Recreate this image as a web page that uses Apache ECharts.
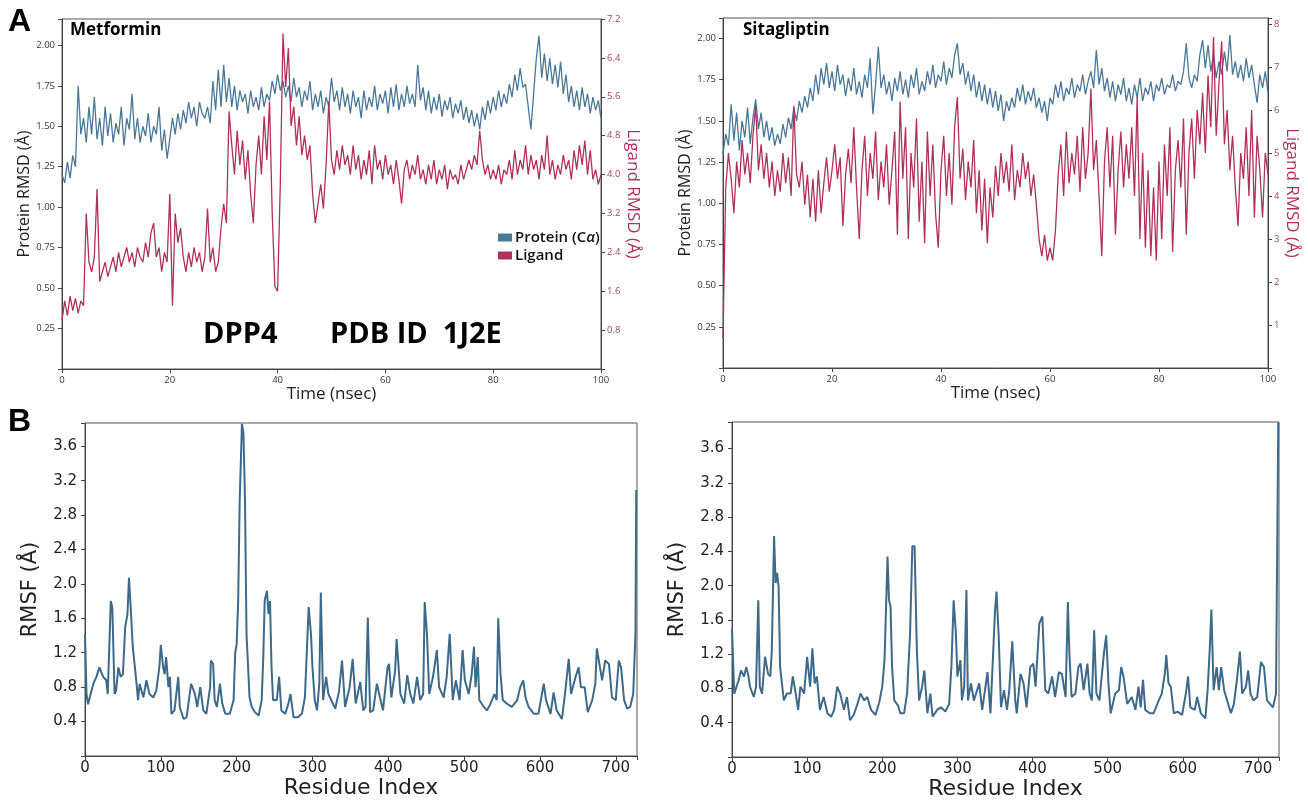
<!DOCTYPE html>
<html>
<head>
<meta charset="utf-8">
<title>RMSD and RMSF</title>
<script src="https://cdn.jsdelivr.net/npm/echarts@6/dist/echarts.min.js"></script>
<style>
  html, body { margin: 0; padding: 0; background: #fff; }
  #chart { width: 1308px; height: 803px; }
</style>
</head>
<body>
<div id="chart"></div>
<script>
// A: RMSD over 100 ns, one sample every 0.5 ns
const metProtein = [
  1.20,1.15,1.28,1.18,1.32,1.25,1.75,1.45,1.55,1.40,
  1.62,1.45,1.68,1.42,1.55,1.38,1.62,1.44,1.58,1.40,
  1.52,1.45,1.62,1.38,1.55,1.48,1.70,1.42,1.55,1.40,
  1.50,1.44,1.58,1.40,1.50,1.45,1.62,1.35,1.48,1.30,
  1.42,1.55,1.45,1.58,1.48,1.60,1.52,1.65,1.55,1.62,
  1.50,1.65,1.58,1.55,1.62,1.52,1.78,1.60,1.85,1.62,
  1.88,1.65,1.80,1.62,1.75,1.60,1.72,1.65,1.70,1.58,
  1.72,1.62,1.68,1.60,1.74,1.62,1.70,1.66,1.78,1.70,
  1.82,1.72,1.78,1.68,1.75,1.65,1.80,1.68,1.74,1.62,
  1.72,1.66,1.78,1.60,1.70,1.62,1.72,1.58,1.68,1.62,
  1.80,1.65,1.72,1.60,1.74,1.62,1.70,1.58,1.72,1.62,
  1.68,1.55,1.72,1.60,1.68,1.62,1.75,1.60,1.70,1.64,
  1.72,1.58,1.74,1.62,1.76,1.60,1.70,1.62,1.75,1.64,
  1.70,1.62,1.88,1.66,1.74,1.60,1.72,1.58,1.68,1.60,
  1.70,1.56,1.66,1.60,1.68,1.55,1.64,1.58,1.66,1.54,
  1.62,1.52,1.60,1.50,1.58,1.48,1.62,1.54,1.66,1.58,
  1.68,1.60,1.72,1.62,1.70,1.64,1.76,1.68,1.82,1.72,
  1.86,1.74,1.76,1.62,1.48,1.70,1.92,2.06,1.80,1.95,
  1.78,1.92,1.76,1.88,1.74,1.90,1.70,1.82,1.65,1.75,
  1.62,1.72,1.60,1.74,1.62,1.70,1.58,1.68,1.60,1.66,
  1.55
];
const metLigand = [
  1.0,1.4,1.1,1.5,1.2,1.45,1.15,1.4,1.3,3.2,
  2.2,2.0,2.3,3.7,1.8,2.0,2.2,1.9,2.1,2.3,
  2.0,2.4,2.1,2.3,2.5,2.2,2.4,2.1,2.5,2.3,
  2.2,2.6,2.3,2.8,3.0,2.3,2.5,2.0,2.4,2.2,
  3.6,1.3,3.2,2.6,2.9,2.3,2.0,2.4,2.1,2.5,
  2.2,2.4,2.0,2.3,3.3,2.2,2.5,2.0,2.2,2.9,
  3.4,3.0,5.3,4.6,4.0,4.9,4.2,4.7,3.9,4.5,
  3.6,3.0,4.2,4.8,4.0,5.2,4.3,5.5,3.2,1.7,
  1.6,3.8,6.9,5.8,6.6,5.0,5.4,4.6,5.2,4.4,
  4.8,4.3,4.6,3.6,3.0,3.4,3.8,3.3,4.2,5.5,
  4.3,4.0,4.5,4.1,4.6,4.2,4.4,4.0,4.6,4.1,
  4.4,3.9,4.3,4.0,4.5,3.8,4.6,4.1,4.3,3.9,
  4.4,4.0,4.2,3.8,4.3,3.9,3.4,4.1,4.3,3.9,
  4.2,4.0,4.4,3.9,4.1,3.8,4.2,3.9,4.3,3.8,
  4.1,3.9,4.2,3.7,4.1,3.9,4.0,3.8,4.2,3.9,
  4.1,4.3,4.1,4.4,4.2,4.9,4.3,4.0,4.2,3.9,
  4.1,3.9,4.2,3.8,4.1,4.0,4.3,3.9,4.5,4.0,
  4.3,4.1,4.6,4.0,4.4,4.1,4.3,3.9,4.4,4.1,
  4.8,4.0,4.3,3.9,4.2,4.0,4.4,4.1,4.3,3.9,
  4.5,4.1,4.6,4.2,4.7,4.0,4.5,3.9,4.1,3.8,
  4.0
];
const sitaProtein = [
  1.30,1.42,1.35,1.60,1.38,1.55,1.32,1.50,1.40,1.58,
  1.36,1.52,1.63,1.45,1.55,1.40,1.50,1.38,1.46,1.35,
  1.42,1.36,1.48,1.40,1.52,1.45,1.58,1.50,1.62,1.55,
  1.65,1.58,1.70,1.62,1.78,1.66,1.82,1.72,1.85,1.70,
  1.80,1.68,1.84,1.72,1.78,1.65,1.76,1.68,1.82,1.66,
  1.74,1.64,1.78,1.70,1.88,1.54,1.72,1.95,1.70,1.78,
  1.66,1.74,1.62,1.76,1.68,1.80,1.66,1.75,1.64,1.78,
  1.70,1.82,1.66,1.74,1.68,1.80,1.72,1.84,1.70,1.78,
  1.74,1.86,1.72,1.82,1.76,1.90,1.97,1.78,1.85,1.72,
  1.80,1.68,1.78,1.64,1.74,1.62,1.72,1.60,1.70,1.58,
  1.68,1.56,1.66,1.50,1.62,1.56,1.64,1.58,1.70,1.62,
  1.72,1.60,1.68,1.62,1.70,1.58,1.64,1.55,1.62,1.50,
  1.64,1.60,1.72,1.64,1.74,1.62,1.70,1.66,1.76,1.64,
  1.72,1.68,1.78,1.66,1.74,1.80,1.70,1.93,1.72,1.82,
  1.68,1.76,1.64,1.74,1.62,1.72,1.66,1.76,1.62,1.70,
  1.60,1.72,1.64,1.76,1.62,1.70,1.66,1.74,1.62,1.72,
  1.68,1.76,1.66,1.72,1.70,1.78,1.68,1.74,1.72,1.80,
  1.97,1.76,1.70,1.78,1.74,1.90,1.99,1.82,1.96,1.80,
  1.90,1.76,1.86,1.78,1.92,1.80,2.02,1.78,1.86,1.76,
  1.84,1.74,1.88,1.76,1.84,1.72,1.61,1.78,1.70,1.80,
  1.67
];
const sitaLigand = [
  0.7,4.2,5.0,4.4,3.6,4.8,4.2,5.3,4.5,5.0,
  4.3,5.4,6.1,4.6,5.2,4.4,5.0,4.2,4.8,4.0,
  4.6,4.1,5.0,4.3,4.9,4.0,6.1,4.5,4.2,4.8,
  3.8,4.5,3.5,4.4,3.4,4.6,3.6,4.3,4.9,4.1,
  4.6,5.2,4.4,4.9,3.3,4.5,5.1,4.3,5.6,4.2,
  3.0,4.6,5.4,4.0,5.0,4.4,5.5,3.9,4.8,4.2,
  5.2,3.8,4.6,5.5,3.1,6.2,4.4,5.6,3.0,5.0,
  4.2,5.8,3.4,4.8,2.9,5.5,4.0,5.2,3.6,2.8,
  4.6,5.4,4.0,5.0,3.8,5.6,6.3,4.4,5.1,3.9,
  4.8,4.2,5.3,3.6,4.6,3.2,4.4,2.9,4.2,3.5,
  4.7,4.0,5.0,4.3,4.8,4.1,5.2,3.9,4.6,4.2,
  5.0,4.4,4.8,4.0,4.5,3.8,3.0,2.6,3.1,2.5,
  2.8,2.5,3.2,4.5,5.2,4.0,5.5,4.3,5.0,4.5,
  5.4,4.1,5.6,4.4,5.0,6.5,4.6,5.3,4.0,2.6,
  4.8,5.6,4.2,5.4,3.1,4.6,5.5,4.2,5.2,4.4,
  5.6,4.0,6.3,3.0,5.0,2.8,4.6,2.6,4.2,2.5,
  4.8,3.0,5.2,4.0,5.6,2.7,4.6,5.3,4.2,5.8,
  3.1,5.0,5.8,4.4,6.0,5.2,6.4,5.0,6.8,5.6,
  7.7,5.4,6.6,7.6,5.2,6.0,4.6,5.4,4.2,3.3,
  5.0,4.4,5.6,4.0,6.0,3.5,5.4,4.6,3.5,5.0,
  4.5
];
const timeStep = 0.5;

// B: RMSF per residue
const metRes = [0,2,4,11,15,19,24,28,30,34,36,39,41,44,47,50,53,56,58,60,63,68,70,72,77,81,85,90,94,98,
  100,103,105,107,110,112,114,118,123,125,130,134,137,140,145,148,152,156,160,165,166,169,171,174,178,181,185,191,196,198,
  200,202,204,207,209,211,213,217,220,224,229,233,235,237,240,242,244,246,248,253,256,259,264,268,271,275,281,286,290,295,
  298,300,303,306,309,311,314,318,321,323,330,335,339,343,349,353,357,363,367,370,373,376,380,385,389,393,399,401,404,409,
  411,413,416,421,425,429,433,438,442,446,448,451,454,459,464,467,473,477,481,485,489,494,498,501,506,510,513,515,518,520,
  526,530,534,540,543,545,548,551,556,563,570,574,578,581,585,592,598,605,608,614,618,622,629,633,638,641,647,651,654,659,
  663,669,673,675,677,682,686,691,695,700,704,707,711,715,719,723,726,727];
const metRmsf = [1.42,0.72,0.60,0.84,0.92,1.03,0.92,0.88,0.72,1.80,1.73,0.72,0.76,1.03,0.92,0.95,1.50,1.65,2.07,1.77,1.27,0.84,0.65,0.84,0.68,0.88,0.72,0.68,0.76,1.03,
  1.29,1.03,0.95,1.15,0.80,0.92,0.49,0.53,0.92,0.57,0.43,0.45,0.65,0.84,0.72,0.57,0.80,0.53,0.49,0.80,1.11,1.07,0.65,0.57,0.84,0.61,0.49,0.49,0.65,1.19,
  1.30,1.80,2.97,3.86,3.75,2.97,1.42,0.68,0.57,0.51,0.47,0.65,1.11,1.81,1.92,1.65,1.80,1.03,0.65,0.65,0.92,0.53,0.49,0.60,0.72,0.45,0.45,0.49,0.68,1.73,
  1.42,1.03,0.65,0.53,0.84,1.90,0.65,0.92,0.72,0.70,0.55,0.75,1.11,0.57,0.80,1.13,0.61,0.86,0.53,0.57,1.61,0.51,0.53,0.84,0.68,0.53,1.03,1.07,0.68,0.99,
  1.36,1.11,0.72,0.61,0.94,0.72,0.61,0.92,0.65,0.72,1.79,1.42,0.72,0.92,1.23,0.80,0.68,0.92,1.42,0.65,0.88,0.65,1.23,0.88,0.72,0.95,1.27,0.80,1.15,0.65,
  0.57,0.53,0.59,0.72,0.65,1.60,0.95,0.65,0.61,0.57,0.65,0.80,0.88,0.68,0.57,0.49,0.49,0.84,0.65,0.49,0.74,0.53,0.43,0.72,1.13,0.72,0.92,1.03,0.80,0.80,
  0.51,0.65,0.84,1.25,1.27,0.88,1.11,1.07,0.68,0.65,1.11,1.03,0.65,0.55,0.57,0.72,1.42,3.09];
const sitaRes = [0,3,6,9,12,16,19,22,24,29,32,35,37,40,44,48,51,53,56,58,60,62,64,69,73,78,81,84,88,91,
  96,100,104,107,110,113,117,122,127,132,136,140,144,149,153,157,162,167,171,176,180,185,191,196,200,203,207,209,211,213,
  216,221,224,229,233,237,240,243,246,249,253,256,260,264,267,273,278,284,289,292,295,298,300,304,306,309,312,314,318,322,
  329,333,340,344,350,352,355,358,362,366,369,373,377,379,384,388,392,397,401,404,409,413,417,421,426,430,435,439,444,447,
  449,452,457,461,464,468,473,476,479,482,485,489,495,498,501,504,510,515,518,521,526,532,537,541,544,547,550,556,561,568,
  572,576,578,581,584,588,593,599,604,607,610,616,619,624,630,633,636,638,641,645,648,651,655,659,664,668,672,676,679,684,
  687,690,694,699,704,708,712,716,720,724,727];
const sitaRmsf = [1.50,0.74,0.82,0.90,1.01,0.94,1.05,0.94,0.82,0.70,0.82,1.83,0.82,0.74,1.17,0.97,0.94,1.25,2.58,2.03,2.15,1.99,1.05,0.66,0.74,0.74,0.94,0.78,0.55,0.82,
  0.74,1.17,0.82,1.27,0.86,0.94,0.55,0.70,0.51,0.47,0.55,0.82,0.74,0.55,0.70,0.43,0.49,0.62,0.74,0.66,0.70,0.55,0.49,0.64,0.82,1.13,2.34,1.83,1.76,1.05,
  0.66,0.60,0.51,0.51,0.74,1.44,2.46,2.46,1.25,0.66,0.82,1.01,0.51,0.74,0.47,0.55,0.58,0.53,0.62,1.05,1.83,1.44,0.94,1.13,0.66,0.82,1.95,0.66,0.86,0.66,
  0.86,0.55,0.99,0.51,1.70,1.93,1.40,0.58,0.78,0.55,0.78,1.35,0.66,0.51,0.97,0.86,0.58,1.05,1.09,0.82,1.56,1.64,0.78,0.74,0.94,0.70,0.99,0.97,0.70,1.81,
  1.21,0.70,0.74,1.05,1.09,0.78,1.09,0.74,0.66,1.48,0.74,0.66,1.21,1.42,0.86,0.51,0.74,0.78,1.05,0.94,0.62,0.70,0.55,0.82,0.58,0.90,0.55,0.51,0.51,0.66,
  0.74,0.97,1.19,0.86,0.82,0.51,0.53,0.49,0.74,0.94,0.58,0.55,0.70,0.51,0.45,0.78,1.29,1.72,0.78,1.05,0.78,1.05,0.78,0.66,0.51,0.62,0.90,1.23,0.74,0.82,
  1.01,0.74,0.66,0.70,1.11,1.05,0.66,0.62,0.58,0.74,3.90];

const blue = '#4a7896';
const crimson = '#b0305c';
const rmsfBlue = '#3d6a89';
const axisGrey = '#444';

function stepLabel(step, digits) {
  return function (v) {
    const k = v / step;
    return (v > 0 && Math.abs(k - Math.round(k)) < 1e-6) ? v.toFixed(digits) : '';
  };
}

function timeSeries(arr) {
  return arr.map((v, i) => [i * timeStep, v]);
}

function pairs(xs, ys) {
  return xs.map((x, i) => [x, ys[i]]);
}

const topFont = 'Open Sans';
const botFont = 'DejaVu Sans';

function timeAxis(grid) {
  return {
    gridIndex: grid, type: 'value', min: 0, max: 100, interval: 20,
    name: 'Time (nsec)', nameLocation: 'middle', nameGap: 16,
    nameTextStyle: { fontFamily: topFont, fontSize: 17, color: '#222' },
    axisLine: { lineStyle: { color: axisGrey } },
    axisTick: { length: 4, lineStyle: { color: axisGrey } },
    axisLabel: { fontFamily: topFont, fontSize: 9.5, color: '#333', margin: 6 },
    splitLine: { show: false }
  };
}

function residueAxis(grid) {
  return {
    gridIndex: grid, type: 'value', min: 0, max: 728, interval: 100,
    name: 'Residue Index', nameLocation: 'middle', nameGap: 20,
    nameTextStyle: { fontFamily: botFont, fontSize: 22, color: '#222' },
    axisLine: { lineStyle: { color: axisGrey } },
    axisTick: { length: 4, lineStyle: { color: axisGrey } },
    axisLabel: { fontFamily: botFont, fontSize: 15, color: '#222', margin: 5,
      formatter: v => (v % 100 === 0 ? String(v) : '') },
    splitLine: { show: false }
  };
}

function proteinAxis(grid, max) {
  return {
    gridIndex: grid, type: 'value', position: 'left', min: 0, max: max, interval: 0.25,
    name: 'Protein RMSD (Å)', nameLocation: 'middle', nameGap: 29,
    nameTextStyle: { fontFamily: topFont, fontSize: 16, color: '#222' },
    axisLine: { show: true, lineStyle: { color: axisGrey } },
    axisTick: { show: true, length: 4, lineStyle: { color: axisGrey } },
    axisLabel: { fontFamily: topFont, fontSize: 9.5, color: '#333', margin: 7, formatter: stepLabel(0.25, 2) },
    splitLine: { show: false }
  };
}

function ligandAxis(grid, max, step, digits, gap) {
  return {
    gridIndex: grid, type: 'value', position: 'right', min: 0, max: max, interval: step,
    name: 'Ligand RMSD (Å)', nameLocation: 'middle', nameGap: gap, nameRotate: -90,
    nameTextStyle: { fontFamily: topFont, fontSize: 17, color: crimson },
    axisLine: { show: true, lineStyle: { color: axisGrey } },
    axisTick: { show: true, length: 4, lineStyle: { color: axisGrey } },
    axisLabel: { fontFamily: topFont, fontSize: 9.5, color: '#a04466', margin: 6, formatter: stepLabel(step, digits) },
    splitLine: { show: false }
  };
}

function rmsfAxis(grid, max) {
  return {
    gridIndex: grid, type: 'value', min: 0, max: max, interval: 0.4,
    name: 'RMSF (Å)', nameLocation: 'middle', nameGap: 44,
    nameTextStyle: { fontFamily: botFont, fontSize: 21, color: '#222' },
    axisLine: { show: true, lineStyle: { color: axisGrey } },
    axisTick: { show: true, length: 4, lineStyle: { color: axisGrey } },
    axisLabel: { fontFamily: botFont, fontSize: 15, color: '#222', margin: 8, formatter: stepLabel(0.4, 1) },
    splitLine: { show: false }
  };
}

const boxed = { show: true, borderColor: '#555', borderWidth: 1, backgroundColor: 'transparent' };

const chart = echarts.init(document.getElementById('chart'), null, { renderer: 'canvas' });

chart.setOption({
  animation: false,
  backgroundColor: '#fff',
  grid: [
    Object.assign({ left: 62, top: 19, width: 539, height: 350 }, boxed),
    Object.assign({ left: 723, top: 18, width: 545, height: 350 }, boxed),
    Object.assign({ left: 85, top: 423, width: 552, height: 333 }, boxed),
    Object.assign({ left: 732, top: 422, width: 547, height: 335 }, boxed)
  ],
  xAxis: [timeAxis(0), timeAxis(1), residueAxis(2), residueAxis(3)],
  yAxis: [
    proteinAxis(0, 2.163),
    ligandAxis(0, 7.2, 0.8, 1, 22),
    proteinAxis(1, 2.124),
    ligandAxis(1, 8.14, 1, 0, 14),
    rmsfAxis(2, 3.87),
    rmsfAxis(3, 3.91)
  ],
  legend: {
    data: ['Protein (Cα)', 'Ligand'],
    left: 493, top: 225, orient: 'vertical',
    icon: 'rect', itemWidth: 14, itemHeight: 8, itemGap: 3,
    formatter: name => name === 'Ligand' ? '{a|Ligand}' : '{a|Protein (C}{i|α}{a|)}',
    textStyle: {
      padding: [0, 0, 0, -2],
      rich: {
        a: { fontFamily: topFont, fontSize: 15, fontWeight: 600, color: '#111' },
        i: { fontFamily: topFont, fontSize: 15, fontWeight: 600, fontStyle: 'italic', color: '#111' }
      }
    }
  },
  graphic: [
    { type: 'text', left: 8, top: 6, style: { text: 'A', font: 'bold 32px "Liberation Sans"', fill: '#000' } },
    { type: 'text', left: 8, top: 406, style: { text: 'B', font: 'bold 32px "Liberation Sans"', fill: '#000' } },
    { type: 'text', left: 70, top: 22, style: { text: 'Metformin', font: 'bold 17px "Open Sans"', fill: '#000' } },
    { type: 'text', left: 743, top: 22, style: { text: 'Sitagliptin', font: 'bold 17px "Open Sans"', fill: '#000' } },
    { type: 'text', left: 203, top: 320, style: { text: 'DPP4', font: 'bold 29px "Open Sans"', fill: '#000' } },
    { type: 'text', left: 330, top: 320, style: { text: 'PDB ID  1J2E', font: 'bold 29px "Open Sans"', fill: '#000' } }
  ],
  series: [
    { name: 'Protein (Cα)', type: 'line', xAxisIndex: 0, yAxisIndex: 0, data: timeSeries(metProtein),
      showSymbol: false, color: blue, lineStyle: { width: 1.3 } },
    { name: 'Ligand', type: 'line', xAxisIndex: 0, yAxisIndex: 1, data: timeSeries(metLigand),
      showSymbol: false, color: crimson, lineStyle: { width: 1.3 } },
    { name: 'Protein Sitagliptin', type: 'line', xAxisIndex: 1, yAxisIndex: 2, data: timeSeries(sitaProtein),
      showSymbol: false, color: blue, lineStyle: { width: 1.3 } },
    { name: 'Ligand Sitagliptin', type: 'line', xAxisIndex: 1, yAxisIndex: 3, data: timeSeries(sitaLigand),
      showSymbol: false, color: crimson, lineStyle: { width: 1.3 } },
    { name: 'RMSF Metformin', type: 'line', xAxisIndex: 2, yAxisIndex: 4, data: pairs(metRes, metRmsf),
      showSymbol: false, color: rmsfBlue, lineStyle: { width: 2 } },
    { name: 'RMSF Sitagliptin', type: 'line', xAxisIndex: 3, yAxisIndex: 5, data: pairs(sitaRes, sitaRmsf),
      showSymbol: false, color: rmsfBlue, lineStyle: { width: 2 } }
  ]
});
</script>
</body>
</html>
